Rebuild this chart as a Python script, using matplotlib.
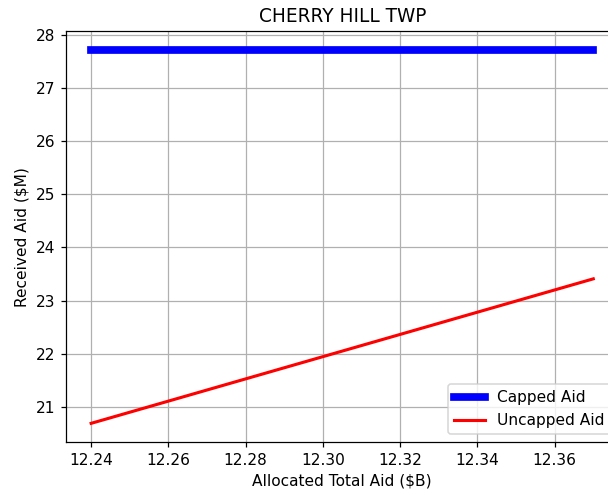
import matplotlib
matplotlib.use("Agg")
import matplotlib.pyplot as plt

# Allocated total aid ($B) and the aid received by the municipality ($M)
allocated_total = [12.24, 12.37]
capped_aid = [27.72, 27.72]
uncapped_aid = [20.69, 23.41]

DPI = 111
fig = plt.figure(figsize=(608 / DPI, 492 / DPI), dpi=DPI)
ax = fig.add_axes([0.1086, 0.1016, 0.9085, 0.835])

ax.plot(allocated_total, capped_aid, color="blue", linewidth=5, label="Capped Aid")
ax.plot(allocated_total, uncapped_aid, color="red", linewidth=2, label="Uncapped Aid")

ax.set_title("CHERRY HILL TWP")
ax.set_xlabel("Allocated Total Aid ($B)")
ax.set_ylabel("Received Aid ($M)")
ax.grid(True)
ax.legend(loc="lower right")

fig.savefig("out.png", dpi=DPI)
